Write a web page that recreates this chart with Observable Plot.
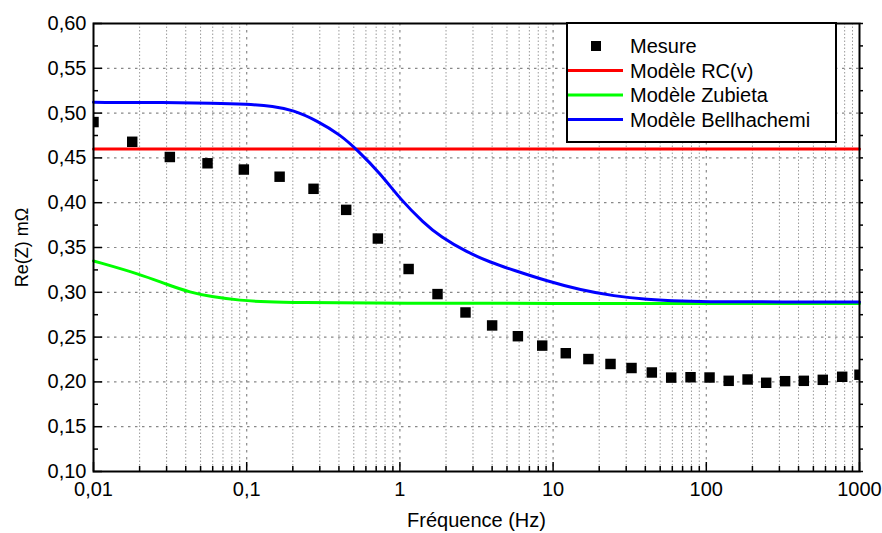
<!DOCTYPE html>
<html><head><meta charset="utf-8">
<script src="https://cdn.jsdelivr.net/npm/d3@7"></script>
<script src="https://cdn.jsdelivr.net/npm/@observablehq/plot@0.6"></script>
<style>body{margin:0;background:#fff;} svg{display:block}</style>
</head><body><div id="chart"></div>
<script>
// Measured data (Mesure)
const freqMesure = [0.01, 0.0179, 0.0315, 0.0555, 0.0958, 0.164, 0.273, 0.446, 0.718, 1.14, 1.76, 2.68, 4.0, 5.89, 8.49, 12.1, 17.0, 23.7, 32.5, 44.1, 59.0, 78.9, 105, 140, 186, 246, 327, 433, 576, 771, 1000];
const reMesure   = [0.490, 0.468, 0.451, 0.444, 0.437, 0.429, 0.4155, 0.392, 0.360, 0.326, 0.298, 0.2775, 0.263, 0.251, 0.2405, 0.232, 0.2255, 0.220, 0.2155, 0.2105, 0.2048, 0.2052, 0.2049, 0.2012, 0.2027, 0.199, 0.2008, 0.2012, 0.2023, 0.2057, 0.208];
// Modèle RC(v)
const freqRC = [0.01, 1000];
const reRC   = [0.46, 0.46];
// Modèle Zubieta
const freqZub = [0.01, 0.0203, 0.0303, 0.043, 0.058, 0.091, 0.14, 0.193, 1, 10, 100, 1000];
const reZub   = [0.3350, 0.3200, 0.3085, 0.2998, 0.2952, 0.2908, 0.2892, 0.2885, 0.2878, 0.2876, 0.2875, 0.2875];
// Modèle Bellhachemi
const freqBell = [0.01, 0.03, 0.06, 0.1, 0.15, 0.2, 0.289, 0.41, 0.526, 0.747, 1.01, 1.43, 1.84, 2.75, 3.9, 5.54, 9.15, 15.1, 24.9, 41.1, 67.9, 120, 300, 1000];
const reBell   = [0.512, 0.5118, 0.5112, 0.5100, 0.5075, 0.5035, 0.4915, 0.4755, 0.459, 0.4325, 0.4035, 0.3775, 0.362, 0.3445, 0.3335, 0.3245, 0.3125, 0.3025, 0.2958, 0.2920, 0.2902, 0.2894, 0.2892, 0.2892];

const xTicks = [0.01, 0.1, 1, 10, 100, 1000];
const xTickLabels = ["0,01", "0,1", "1", "10", "100", "1000"];
const yTicks = [0.10, 0.15, 0.20, 0.25, 0.30, 0.35, 0.40, 0.45, 0.50, 0.55, 0.60];
const yTickLabels = ["0,10", "0,15", "0,20", "0,25", "0,30", "0,35", "0,40", "0,45", "0,50", "0,55", "0,60"];
const seriesNames = ["Mesure", "Modèle RC(v)", "Modèle Zubieta", "Modèle Bellhachemi"];
const seriesColors = ["#000000", "#ff0000", "#00ff00", "#0000ff"];
const xTitle = "Fréquence (Hz)";
const yTitle = "Re(Z) mΩ";

const W = 882, H = 533, mL = 93, mR = 23, mT = 23, mB = 62;
const font = "'Liberation Sans', Arial, sans-serif";

const toRows = (fs, vs) => fs.map((f, i) => ({f, v: vs[i]}));
const mesure = toRows(freqMesure, reMesure);
const rc = toRows(freqRC, reRC);
const zub = toRows(freqZub, reZub);
const bell = toRows(freqBell, reBell);

const xMinor = xTicks.slice(0, -1).flatMap(t => [2,3,4,5,6,7,8,9].map(k => +(t * k).toPrecision(2)));
const yMinor = yTicks.slice(0, -1).map((t, i) => +((t + yTicks[i + 1]) / 2).toFixed(3));
const xLab = new Map(xTicks.map((t, i) => [t, xTickLabels[i]]));
const yLab = new Map(yTicks.map((t, i) => [t, yTickLabels[i]]));
const blank = () => "";

const chart = Plot.plot({
  width: W, height: H,
  marginLeft: mL, marginRight: mR, marginTop: mT, marginBottom: mB,
  style: {fontFamily: font, fontSize: "20px", color: "#000", background: "#fff", overflow: "visible"},
  x: {type: "log", domain: [0.01, 1000], label: null},
  y: {domain: [0.1, 0.6], label: null},
  marks: [
    Plot.gridX(xMinor, {stroke: "#9a9a9a", strokeOpacity: 1, strokeDasharray: "1.5,2", strokeWidth: 1}),
    Plot.gridX(xTicks.slice(1, -1), {stroke: "#888", strokeOpacity: 1, strokeDasharray: "2.5,4.5", strokeWidth: 1.2}),
    Plot.gridY(yTicks.slice(1, -1), {stroke: "#888", strokeOpacity: 1, strokeDasharray: "2.5,4.5", strokeWidth: 1.2}),
    Plot.line(rc, {x: "f", y: "v", stroke: seriesColors[1], strokeWidth: 3}),
    Plot.line(zub, {x: "f", y: "v", stroke: seriesColors[2], strokeWidth: 3, curve: "basis"}),
    Plot.line(bell, {x: "f", y: "v", stroke: seriesColors[3], strokeWidth: 3, curve: "basis"}),
    Plot.dot(mesure, {x: "f", y: "v", symbol: "square", r: 5.9, fill: seriesColors[0], stroke: "none", clip: true}),
    Plot.frame({stroke: "#000", strokeWidth: 2}),
    // inward ticks
    Plot.axisX({ticks: xTicks, anchor: "bottom", tickSize: -9, tickFormat: blank, label: null, strokeWidth: 1.5}),
    Plot.axisX({ticks: xMinor, anchor: "bottom", tickSize: -5, tickFormat: blank, label: null, strokeWidth: 1.5}),
    Plot.axisY({ticks: yTicks, anchor: "left", tickSize: -9, tickFormat: blank, label: null, strokeWidth: 1.5}),
    Plot.axisY({ticks: yMinor, anchor: "left", tickSize: -5, tickFormat: blank, label: null, strokeWidth: 1.5}),
    Plot.axisY({ticks: [...yTicks, ...yMinor], anchor: "right", tickSize: 3, tickFormat: blank, label: null, strokeWidth: 1.5}),
    // labels
    Plot.axisX({ticks: xTicks, anchor: "bottom", tickSize: 0, tickPadding: 10, tickFormat: d => xLab.get(d), label: null, fill: "#000", fontSize: 20}),
    Plot.axisY({ticks: yTicks, anchor: "left", tickSize: 0, tickPadding: 7, tickFormat: d => yLab.get(d), label: null, fill: "#000", fontSize: 20}),
    Plot.text([xTitle], {frameAnchor: "bottom", dy: 49, text: d => d, fontSize: 20, fill: "#000", textAnchor: "middle", lineAnchor: "middle"}),
    Plot.text([yTitle], {frameAnchor: "left", dx: -71, rotate: -90, text: d => d, fontSize: 18, fill: "#000", textAnchor: "middle", lineAnchor: "middle"})
  ]
});

document.getElementById("chart").appendChild(chart);

// Legend box inside plot area (top-right)
const svg = d3.select(chart);
const legRight = W - mR - 23, legW = 269, legH = 119;
const legLeft = legRight - legW, legTop = mT;
const lg = svg.append("g").attr("font-family", font).attr("font-size", 20).attr("text-anchor", "start");
lg.append("rect").attr("x", legLeft).attr("y", legTop).attr("width", legW).attr("height", legH)
  .attr("fill", "#fff").attr("stroke", "#000").attr("stroke-width", 2);
seriesNames.forEach((name, i) => {
  const cy = legTop + 23 + i * 24.5;
  if (i === 0) {
    lg.append("rect").attr("x", legLeft + 24).attr("y", cy - 5).attr("width", 10).attr("height", 10).attr("fill", seriesColors[0]);
  } else {
    lg.append("line").attr("x1", legLeft + 1).attr("x2", legLeft + 56).attr("y1", cy).attr("y2", cy)
      .attr("stroke", seriesColors[i]).attr("stroke-width", 3);
  }
  lg.append("text").attr("x", legLeft + 63).attr("y", cy).attr("dy", "0.35em")
    .attr("text-anchor", "start").attr("fill", "#000").text(name);
});
</script>
</body></html>
